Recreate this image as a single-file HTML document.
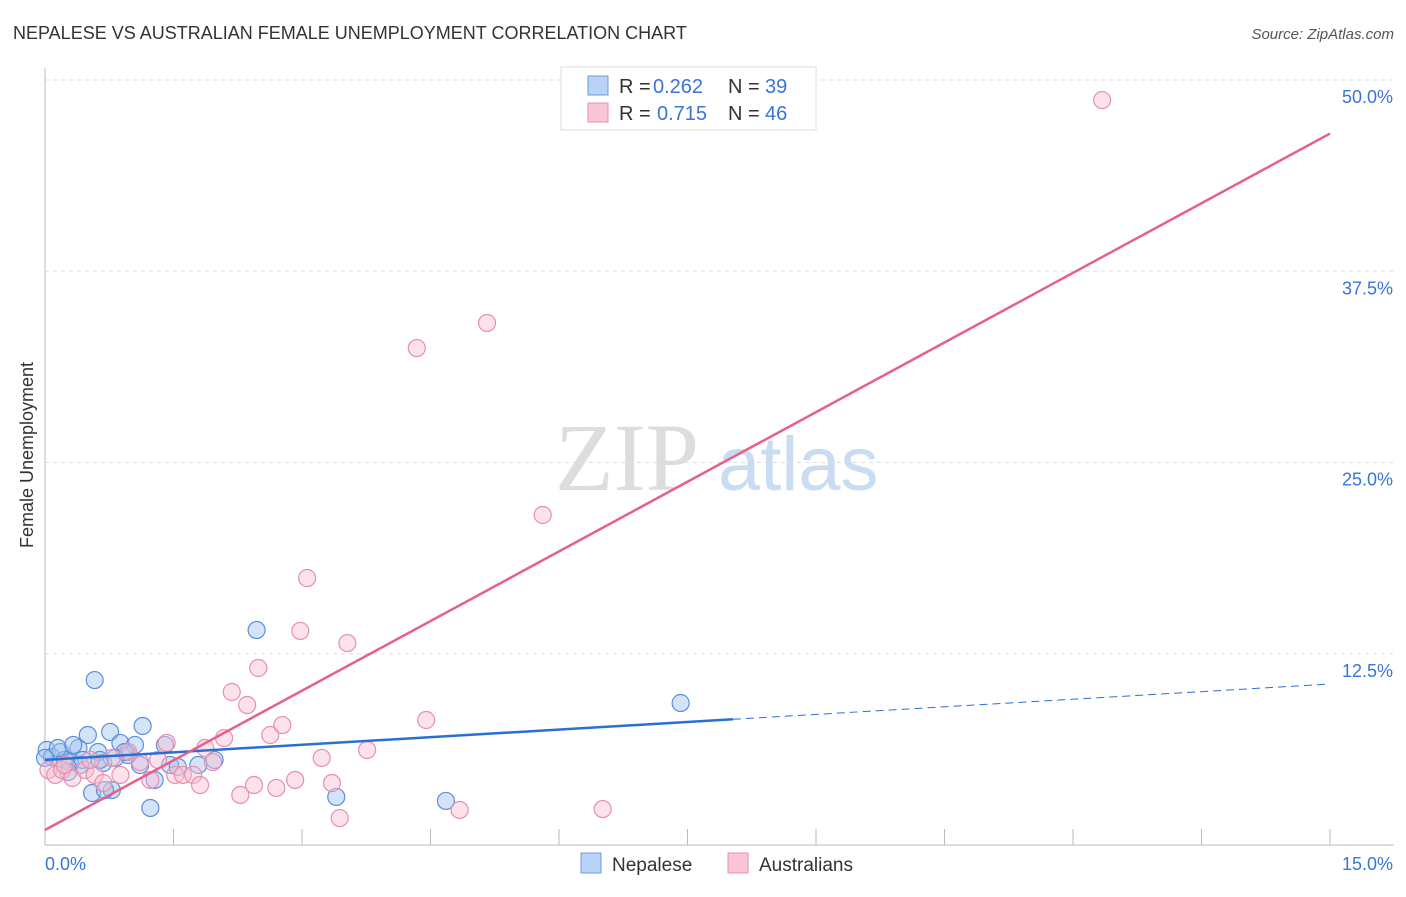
<!DOCTYPE html>
<html><head><meta charset="utf-8"><style>
body{margin:0;background:#fff;font-family:"Liberation Sans",sans-serif;}
</style></head><body>
<svg width="1406" height="892" xmlns="http://www.w3.org/2000/svg" font-family="Liberation Sans, sans-serif">
<text x="13" y="39" font-size="18" fill="#333">NEPALESE VS AUSTRALIAN FEMALE UNEMPLOYMENT CORRELATION CHART</text>
<text x="1394" y="39" font-size="15" fill="#555" font-style="italic" text-anchor="end">Source: ZipAtlas.com</text>
<g id="grid"></g>
<text x="555" y="490" font-size="96" fill="#ddd" font-family="Liberation Serif, serif">ZIP</text>
<text x="718" y="490" font-size="76" fill="#c9dcf2">atlas</text>
<g id="marks"></g>
<text x="33" y="455" font-size="18" fill="#333" text-anchor="middle" transform="rotate(-90 33 455)">Female Unemployment</text>
<g>
<rect x="561" y="67" width="255" height="63" fill="#fff" stroke="#ddd"/>
<rect x="588" y="76" width="20" height="19" fill="#b8d3f5" stroke="#6a9be0"/>
<rect x="588" y="103" width="20" height="19" fill="#f9c6d6" stroke="#e890ad"/>
<text x="619" y="93" font-size="20" fill="#333">R =</text>
<text x="653" y="93" font-size="20" fill="#3a74d8">0.262</text>
<text x="728" y="93" font-size="20" fill="#333">N =</text>
<text x="765" y="93" font-size="20" fill="#3a74d8">39</text>
<text x="619" y="120" font-size="20" fill="#333">R =</text>
<text x="657" y="120" font-size="20" fill="#3a74d8">0.715</text>
<text x="728" y="120" font-size="20" fill="#333">N =</text>
<text x="765" y="120" font-size="20" fill="#3a74d8">46</text>
</g>
<g>
<rect x="581" y="853" width="20" height="20" fill="#b8d3f5" stroke="#6a9be0"/>
<text x="612" y="871" font-size="19" fill="#333">Nepalese</text>
<rect x="728" y="853" width="20" height="20" fill="#f9c6d6" stroke="#e890ad"/>
<text x="759" y="871" font-size="19" fill="#333">Australians</text>
</g>
</svg>
<script>
const yTicks=[12.5,25,37.5,50];
const yTickLabels=["12.5%","25.0%","37.5%","50.0%"];
const xLabels=["0.0%","15.0%"];
const blueX=[0.02,0.08,0.18,0.23,0.39,0.50,0.58,0.62,0.68,0.76,0.78,0.88,0.97,1.05,1.14,1.23,1.28,1.40,1.46,1.55,1.79,1.98,2.47,3.40,4.68,7.42,0.29,0.41,0.55,0.70,0.15,0.00,0.44,0.93,1.11,0.27,0.64,0.33,0.82];
const blueY=[6.21,5.75,6.08,5.56,6.34,7.19,10.78,6.08,5.36,7.39,3.59,6.67,5.88,6.54,7.78,2.42,4.25,6.54,5.23,5.10,5.23,5.56,14.05,3.14,2.88,9.28,5.42,5.23,3.40,3.59,6.34,5.69,5.56,6.08,5.23,4.77,5.56,6.54,5.69];
const pinkX=[0.04,0.12,0.20,0.32,0.47,0.58,0.68,0.78,0.88,0.97,1.11,1.23,1.32,1.42,1.52,1.61,1.73,1.81,1.87,1.96,2.09,2.18,2.28,2.36,2.44,2.49,2.63,2.70,2.77,2.92,2.98,3.06,3.23,3.35,3.44,3.53,3.76,4.34,4.45,4.84,5.16,5.81,6.51,12.34,0.23,0.53];
const pinkY=[4.90,4.58,4.90,4.38,4.90,4.58,4.05,5.69,4.58,6.08,5.42,4.25,5.56,6.67,4.58,4.58,4.58,3.92,6.34,5.42,6.99,10.0,3.27,9.15,3.92,11.57,7.19,3.73,7.84,4.25,13.99,17.45,5.69,4.05,1.76,13.20,6.21,32.48,8.17,2.29,34.12,21.57,2.35,48.69,5.23,5.56];
const blueTrend=[5.56,10.52]; const blueSolidEnd=8.03;
const pinkTrend=[0.98,46.5];
const X=v=>45+v*(1285/15), Y=v=>845-v*(765/50);
const NS="http://www.w3.org/2000/svg";
function mk(p,t,a){const e=document.createElementNS(NS,t);for(const k in a)e.setAttribute(k,a[k]);p.appendChild(e);return e;}
const g=document.getElementById('grid'), m=document.getElementById('marks');
let ax=mk(g,'line',{x1:45,y1:68,x2:45,y2:845,stroke:'#bbb'});


let bx=mk(g,'line',{x1:45,y1:845,x2:1394,y2:845,stroke:'#bbb'});


yTicks.forEach((t,i)=>{
 let l=mk(g,'line',{x1:45,x2:1394,y1:Y(t),y2:Y(t),stroke:'#ddd','stroke-dasharray':'4,4'});
 
 
 let tx=mk(g,'text',{x:1393,y:Y(t)+23,'font-size':18,fill:'#3a74d8','text-anchor':'end'});tx.textContent=yTickLabels[i];
 
 
});
for(let i=1;i<=10;i++){let l=mk(g,'line',{x1:X(i*1.5),x2:X(i*1.5),y1:829,y2:845,stroke:'#bbb'});
 
 }
[[45,'start'],[1393,'end']].forEach((p,i)=>{let t=mk(g,'text',{x:p[0],y:870,'font-size':18,fill:'#3a74d8','text-anchor':p[1]});t.textContent=xLabels[i];
 
 });
blueX.forEach((v,i)=>{let c=mk(m,'circle',{cx:X(v),cy:Y(blueY[i]),r:8.5,fill:'rgba(160,196,240,0.45)',stroke:'#5a8fdc','stroke-width':1.2});
 
 });
pinkX.forEach((v,i)=>{let c=mk(m,'circle',{cx:X(v),cy:Y(pinkY[i]),r:8.5,fill:'rgba(248,190,208,0.45)',stroke:'#e88eae','stroke-width':1.2});
 
 });
const by=v=>blueTrend[0]+(blueTrend[1]-blueTrend[0])*v/15;
let b1=mk(m,'line',{x1:X(0),y1:Y(by(0)),x2:X(blueSolidEnd),y2:Y(by(blueSolidEnd)),stroke:'#2a6fd4','stroke-width':2.5});


let b2=mk(m,'line',{x1:X(blueSolidEnd),y1:Y(by(blueSolidEnd)),x2:X(15),y2:Y(by(15)),stroke:'#2a6fd4','stroke-width':1,'stroke-dasharray':'8,5'});


let p1=mk(m,'line',{x1:X(0),y1:Y(pinkTrend[0]),x2:X(15),y2:Y(pinkTrend[1]),stroke:'#e6608e','stroke-width':2.5});


</script>
</body></html>
